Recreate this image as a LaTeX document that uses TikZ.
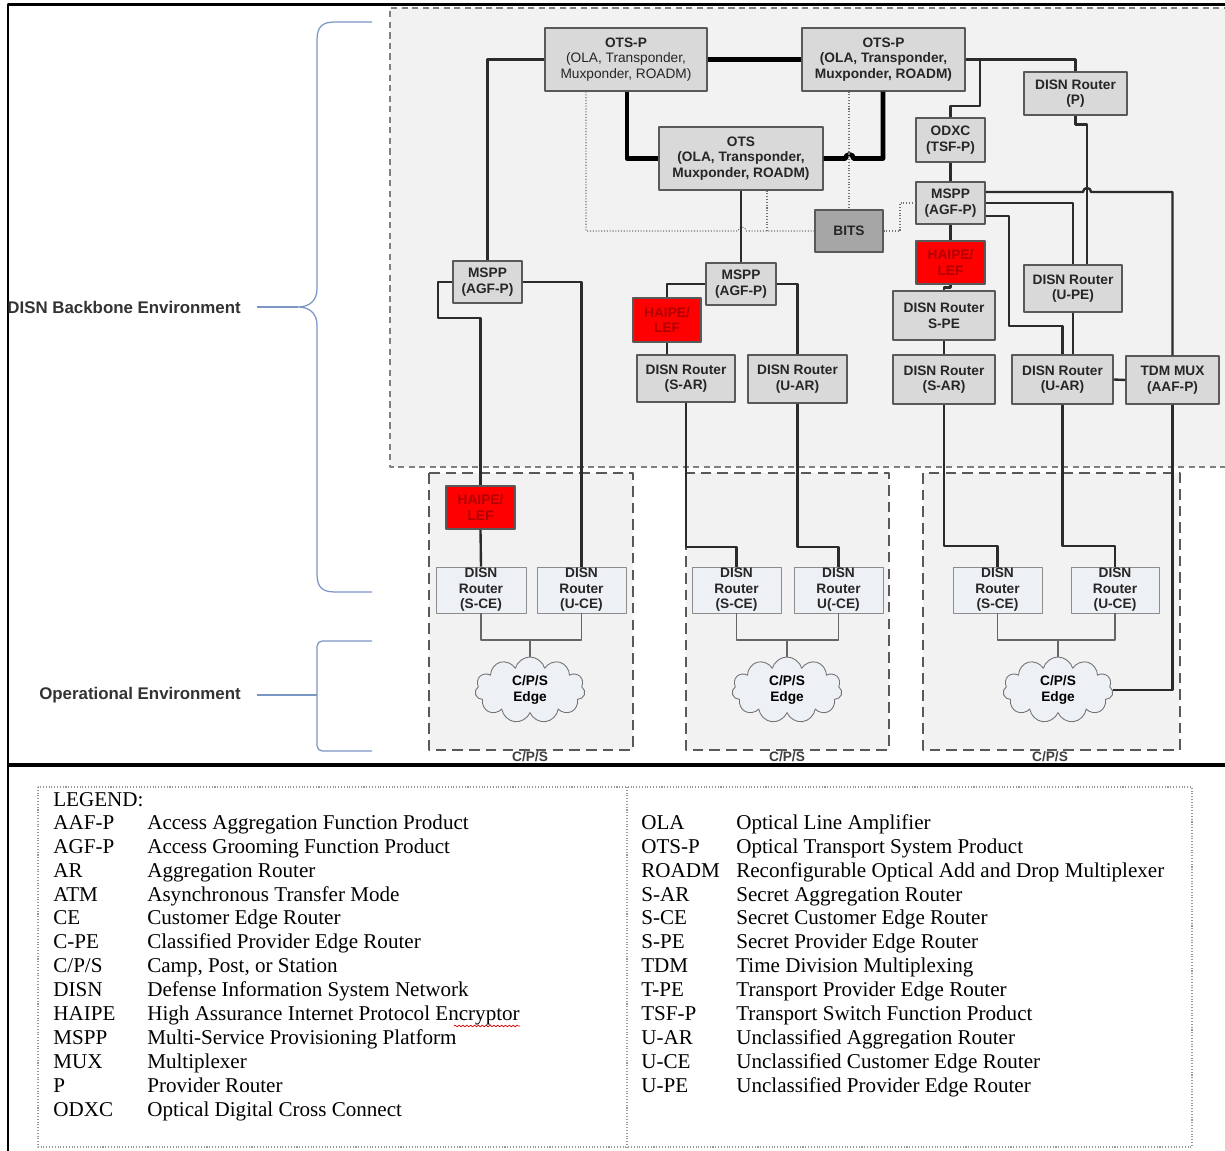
\documentclass[tikz,border=0pt]{standalone}
\usepackage{fontspec}
\setmainfont{Liberation Serif}
\setsansfont{Liberation Sans}
\usetikzlibrary{shapes.symbols,decorations.pathmorphing}

\definecolor{bbfill}{HTML}{F2F2F2}
\definecolor{boxfill}{HTML}{D9D9D9}
\definecolor{boxline}{HTML}{595959}
\definecolor{bitsfill}{HTML}{A6A6A6}
\definecolor{haipered}{HTML}{FF0000}
\definecolor{haipetext}{HTML}{B00000}
\definecolor{cefill}{HTML}{EDF0F5}
\definecolor{bracecol}{HTML}{7A96C2}
\definecolor{wirecol}{HTML}{2B2B2B}

\newcommand\boxfont{\sffamily\bfseries\fontsize{7.8}{8.9}\selectfont}
\newcommand\legL[2]{\makebox[1.88cm][l]{#1}#2}
\newcommand\legR[2]{\makebox[1.9cm][l]{#1}#2}

\tikzset{
  sz/.style 2 args={minimum width=#1*0.02cm, minimum height=#2*0.02cm},
  gear/.style={draw=boxline, fill=boxfill, line width=0.7pt, inner sep=0pt, align=center, text=black!85, font=\boxfont},
  haipe/.style={gear, fill=haipered, text=haipetext},
  bitsbox/.style={gear, fill=bitsfill},
  cerouter/.style={gear, fill=cefill, draw=black!45, line width=0.5pt},
  cpscloud/.style={cloud, cloud puffs=11, draw=black!55, fill=cefill, line width=0.5pt, font=\boxfont, align=center, inner sep=0pt, aspect=1.7},
  wire/.style={draw=wirecol, line width=1.35pt},
  trunk/.style={draw=black, line width=2.7pt},
  timing/.style={draw=black!55, line width=0.6pt, densely dotted},
  cewire/.style={draw=black!60, line width=0.8pt},
  region/.style={draw=black!50, line width=0.8pt, dash pattern=on 3.5pt off 2.5pt},
  cpsregion/.style={draw=black!65, fill=bbfill, line width=1pt, dash pattern=on 6pt off 3.5pt},
  envbrace/.style={draw=bracecol, line width=0.7pt},
  envlabel/.style={anchor=east, text=black!80, font=\sffamily\bfseries\fontsize{9.6}{11}\selectfont},
  leg/.style={anchor=base west, inner sep=0pt, font=\fontsize{12}{14}\selectfont},
  legframe/.style={draw=black!40, line width=0.6pt, densely dotted}
}

\begin{document}
\begin{tikzpicture}[x=0.02cm, y=-0.02cm, line join=round]
\useasboundingbox (0,0) rectangle (1225,1151);
\fill[white] (0,0) rectangle (1225,1151);

% backbone and C/P/S areas
\fill[bbfill] (390,8) rectangle (1230,467);
\draw[region] (1230,8) -- (390,8) -- (390,467) -- (1230,467);
\draw[cpsregion] (429,473) rectangle (633,750);
\draw[cpsregion] (686,473) rectangle (889,750);
\draw[cpsregion] (923,473) rectangle (1180,750);
\node[font=\boxfont, text=black!75, inner sep=0pt] (cpsA) at (530,757) {C/P/S};
\node[font=\boxfont, text=black!75, inner sep=0pt] (cpsB) at (787,757) {C/P/S};
\node[font=\boxfont, text=black!75, inner sep=0pt] (cpsC) at (1050,757) {C/P/S};

% frame
\draw[line width=1.7pt] (1225,5) -- (8,5) -- (8,1151);
\draw[line width=2.2pt] (8,765) -- (1225,765);

% environment braces
\node[envlabel] (lblBackbone) at (247,307) {DISN Backbone Environment};
\node[envlabel] (lblOper) at (247,695) {Operational Environment};
\draw[envbrace] (372,22) -- (335,22) .. controls (322,22) and (317,27) .. (317,40) -- (317,289)
  .. controls (317,300) and (310,307) .. (298,307) .. controls (310,307) and (317,314) .. (317,325)
  -- (317,574) .. controls (317,587) and (322,592) .. (335,592) -- (372,592);
\draw[envbrace] (lblBackbone.east) ++(10,0) -- (298,307);
\draw[envbrace, rounded corners=3pt] (372,641) -- (317,641) -- (317,751) -- (372,751);
\draw[envbrace] (lblOper.east) ++(10,0) -- (317,695);

% backbone equipment
\node[gear, sz={162}{63}] (otsL) at (626,59.5) {OTS-P\\\mdseries(OLA, Transponder,\\\mdseries Muxponder, ROADM)};
\node[gear, sz={163}{63}] (otsR) at (883.5,59.5) {OTS-P\\(OLA, Transponder,\\Muxponder, ROADM)};
\node[gear, sz={164}{63}] (ots) at (741,158.5) {OTS\\(OLA, Transponder,\\Muxponder, ROADM)};
\node[gear, sz={103}{43}] (routerP) at (1075.5,93.5) {DISN Router\\(P)};
\node[gear, sz={69}{44}] (odxc) at (950.5,140) {ODXC\\(TSF-P)};
\node[gear, sz={69}{42}] (msppR) at (950.5,203) {MSPP\\(AGF-P)};
\node[bitsbox, sz={68}{42}] (bits) at (849,231) {BITS};
\node[haipe, sz={69}{43}] (haipeR) at (950.5,262.5) {HAIPE/\\LEF};
\node[gear, sz={102}{49}] (spe) at (944,315.5) {DISN Router\\S-PE};
\node[gear, sz={98}{47}] (upe) at (1073,288.5) {DISN Router\\(U-PE)};
\node[gear, sz={102}{49}] (sarR) at (944,379.5) {DISN Router\\(S-AR)};
\node[gear, sz={101}{49}] (uarR) at (1062.5,379.5) {DISN Router\\(U-AR)};
\node[gear, sz={93}{48}] (tdm) at (1172.5,380) {TDM MUX\\(AAF-P)};
\node[gear, sz={69}{42}] (msppL) at (487.5,282) {MSPP\\(AGF-P)};
\node[gear, sz={70}{42}] (msppM) at (741,284) {MSPP\\(AGF-P)};
\node[haipe, sz={68}{44}] (haipeM) at (667,320) {HAIPE/\\LEF};
\node[gear, sz={98}{47}] (sarM) at (686,378.5) {DISN Router\\(S-AR)};
\node[gear, sz={99}{48}] (uarM) at (797.5,379) {DISN Router\\(U-AR)};

% C/P/S equipment
\node[haipe, sz={69}{43}] (haipeC) at (480.5,507.5) {HAIPE/\\LEF};
\node[cerouter, sz={90}{46}] (sceA) at (481,590) {DISN\\Router\\(S-CE)};
\node[cerouter, sz={89}{46}] (uceA) at (581.5,590) {DISN\\Router\\(U-CE)};
\node[cerouter, sz={89}{46}] (sceB) at (736.5,590) {DISN\\Router\\(S-CE)};
\node[cerouter, sz={89}{46}] (uceB) at (838.5,590) {DISN\\Router\\U(-CE)};
\node[cerouter, sz={89}{46}] (sceC) at (997.5,590) {DISN\\Router\\(S-CE)};
\node[cerouter, sz={88}{46}] (uceC) at (1115,590) {DISN\\Router\\(U-CE)};
\node[cpscloud, sz={110}{66}] (cloudA) at (530,690) {C/P/S\\Edge};
\node[cpscloud, sz={110}{66}] (cloudB) at (787,690) {C/P/S\\Edge};
\node[cpscloud, sz={110}{66}] (cloudC) at (1058,690) {C/P/S\\Edge};

% optical trunks
\draw[trunk] (otsL.east) -- (otsR.west);
\draw[trunk] (otsL.south -| 627,0) |- (ots.west);
\draw[trunk] (otsR.south -| 883,0) -- (883,158.5) -- (853.5,158.5)
  arc[start angle=0, end angle=180, radius=2.3pt] -- (ots.east);

% timing
\draw[timing] (otsL.south -| 586,0) |- (738,231)
  arc[start angle=180, end angle=0, radius=2.3pt] -- (bits.west);
\draw[timing] (ots.south -| 767,0) -- (767,231);
\draw[timing] (otsR.south -| bits.north) -- (bits.north);
\draw[timing] (bits.east) -| (900,203) -- (msppR.west);

% wires
\draw[wire] (otsL.west) -| (msppL.north);
\draw[wire] (ots.south) -- (msppM.north);
\draw[wire] (otsR.east) -| (routerP.north);
\draw[wire] (otsR.east -| 980,0) -- (980,106) -| (odxc.north);
\draw[wire] (odxc.south) -- (msppR.north);
\draw[wire] (msppR.south) -- (haipeR.north);
\draw[wire] (haipeR.south) -- ++(0,3) -| (spe.north);
\draw[wire] (spe.south) -- (sarR.north);
\draw[wire] (routerP.south) -- ++(0,9) -| (upe.north -| 1087,0);
\draw[wire] (msppR.east |- 0,192) -- (1083,192)
  arc[start angle=180, end angle=0, radius=2.3pt] -| (tdm.north);
\draw[wire] (msppR.east) -| (upe.north);
\draw[wire] (msppR.east |- 0,216) -| (1009,326) -| (uarR.north);
\draw[wire] (upe.south) -- (uarR.north -| upe.south);
\draw[wire] (uarR.east) -- (tdm.west);
\draw[wire] (msppM.west) -| (haipeM.north);
\draw[wire] (haipeM.south) -- (sarM.north -| haipeM.south);
\draw[wire] (msppM.east) -| (uarM.north);
\draw[wire] (msppL.west) -| (438,318) -| (haipeC.north);
\draw[wire] (haipeC.south) -- (sceA.north);
\draw[wire] (msppL.east) -| (uceA.north);
\draw[wire] (sarM.south) |- (sceB.north |- 0,547) -- (sceB.north);
\draw[wire] (uarM.south) |- (uceB.north |- 0,547) -- (uceB.north);
\draw[wire] (sarR.south) |- (sceC.north |- 0,546) -- (sceC.north);
\draw[wire] (uarR.south) |- (uceC.north |- 0,546) -- (uceC.north);
\draw[wire] (tdm.south) |- (cloudC.east);

% CE pairs to edge clouds
\draw[cewire] (sceA.south) |- (uceA.south |- 0,640) -- (uceA.south);
\draw[cewire] (cloudA.north) -- (cloudA.north |- 0,640);
\draw[cewire] (sceB.south) |- (uceB.south |- 0,640) -- (uceB.south);
\draw[cewire] (cloudB.north) -- (cloudB.north |- 0,640);
\draw[cewire] (sceC.south) |- (uceC.south |- 0,640) -- (uceC.south);
\draw[cewire] (cloudC.north) -- (cloudC.north |- 0,640);

% legend
\draw[legframe] (38,787) rectangle (1192,1147);
\draw[legframe] (627,787) -- (627,1147);
\node[leg] (legTitle) at (53,807) {LEGEND:};
\node[leg] (lgAAFP) at (53,830) {\legL{AAF-P}{Access Aggregation Function Product}};
\node[leg] (lgAGFP) at (53,854) {\legL{AGF-P}{Access Grooming Function Product}};
\node[leg] (lgAR) at (53,878) {\legL{AR}{Aggregation Router}};
\node[leg] (lgATM) at (53,902) {\legL{ATM}{Asynchronous Transfer Mode}};
\node[leg] (lgCE) at (53,925) {\legL{CE}{Customer Edge Router}};
\node[leg] (lgCPE) at (53,949) {\legL{C-PE}{Classified Provider Edge Router}};
\node[leg] (lgCPS) at (53,973) {\legL{C/P/S}{Camp, Post, or Station}};
\node[leg] (lgDISN) at (53,997) {\legL{DISN}{Defense Information System Network}};
\node[leg] (lgHAIPE) at (53,1021) {\legL{HAIPE}{High Assurance Internet Protocol Encryptor}};
\node[leg] (lgMSPP) at (53,1045) {\legL{MSPP}{Multi-Service Provisioning Platform}};
\node[leg] (lgMUX) at (53,1069) {\legL{MUX}{Multiplexer}};
\node[leg] (lgP) at (53,1093) {\legL{P}{Provider Router}};
\node[leg] (lgODXC) at (53,1117) {\legL{ODXC}{Optical Digital Cross Connect}};
\draw[red!85!black, line width=0.4pt, decorate, decoration={snake, amplitude=0.5pt, segment length=2.2pt}]
  (lgHAIPE.base east) ++(-66,5) -- ++(66,0);
\node[leg] (lgOLA) at (641,830) {\legR{OLA}{Optical Line Amplifier}};
\node[leg] (lgOTSP) at (641,854) {\legR{OTS-P}{Optical Transport System Product}};
\node[leg] (lgROADM) at (641,878) {\legR{ROADM}{Reconfigurable Optical Add and Drop Multiplexer}};
\node[leg] (lgSAR) at (641,902) {\legR{S-AR}{Secret Aggregation Router}};
\node[leg] (lgSCE) at (641,925) {\legR{S-CE}{Secret Customer Edge Router}};
\node[leg] (lgSPE) at (641,949) {\legR{S-PE}{Secret Provider Edge Router}};
\node[leg] (lgTDM) at (641,973) {\legR{TDM}{Time Division Multiplexing}};
\node[leg] (lgTPE) at (641,997) {\legR{T-PE}{Transport Provider Edge Router}};
\node[leg] (lgTSFP) at (641,1021) {\legR{TSF-P}{Transport Switch Function Product}};
\node[leg] (lgUAR) at (641,1045) {\legR{U-AR}{Unclassified Aggregation Router}};
\node[leg] (lgUCE) at (641,1069) {\legR{U-CE}{Unclassified Customer Edge Router}};
\node[leg] (lgUPE) at (641,1093) {\legR{U-PE}{Unclassified Provider Edge Router}};
\end{tikzpicture}
\end{document}
